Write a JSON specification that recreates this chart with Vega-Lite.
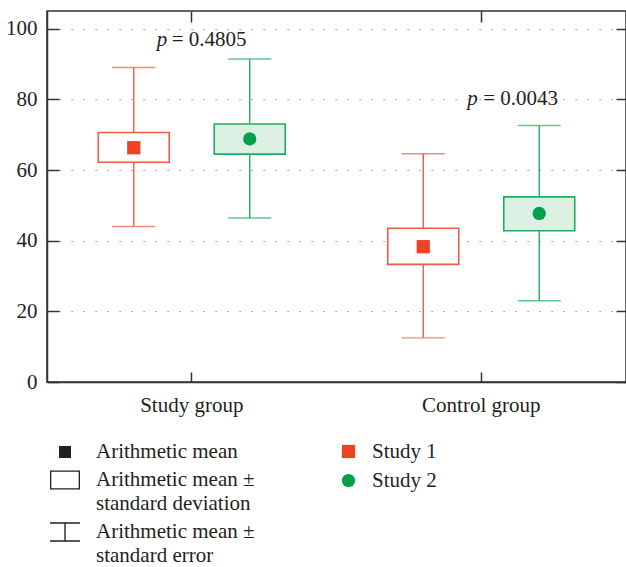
{
  "$schema": "https://vega.github.io/schema/vega-lite/v6.json",
  "width": 579,
  "height": 371,
  "autosize": "none",
  "padding": {"left": 47, "top": 11, "right": 0, "bottom": 185},
  "config": {
    "font": "Liberation Serif",
    "view": {"stroke": "#333333", "strokeWidth": 1.5},
    "axis": {"labelFont": "Liberation Serif", "labelFontSize": 21, "labelColor": "#231f20", "domainColor": "#333333", "domainWidth": 1.5, "tickColor": "#333333", "tickWidth": 1.5},
    "legend": {"labelFont": "Liberation Serif", "labelFontSize": 21, "labelColor": "#231f20", "padding": 0, "labelLimit": 400},
    "style": {"guide-label": {"lineHeight": 24}}
  },
  "datasets": {
    "stats": [
      {"group": "Study group", "series": "Study 1", "mean": 66.3, "sd_low": 62.2, "sd_high": 70.6, "se_low": 44.0, "se_high": 89.0},
      {"group": "Study group", "series": "Study 2", "mean": 68.8, "sd_low": 64.5, "sd_high": 73.0, "se_low": 46.4, "se_high": 91.4},
      {"group": "Control group", "series": "Study 1", "mean": 38.3, "sd_low": 33.3, "sd_high": 43.5, "se_low": 12.5, "se_high": 64.6},
      {"group": "Control group", "series": "Study 2", "mean": 47.7, "sd_low": 42.8, "sd_high": 52.4, "se_low": 23.0, "se_high": 72.6}
    ],
    "pvals": [
      {"group": "Study group", "y": 95.2, "label": "= 0.4805"},
      {"group": "Control group", "y": 78.4, "label": "= 0.0043"}
    ],
    "legenditems": [
      {"item": "Arithmetic mean"},
      {"item": "Arithmetic mean ±|standard deviation"},
      {"item": "Arithmetic mean ±|standard error"}
    ]
  },
  "layer": [
    {
      "data": {"name": "stats"},
      "mark": {"type": "rule", "strokeWidth": 1.4},
      "encoding": {
        "x": {"field": "group", "type": "nominal", "sort": ["Study group", "Control group"], "scale": {"type": "band", "paddingInner": 0, "paddingOuter": 0},
              "axis": {"orient": "bottom", "title": null, "labelAngle": 0, "tickSize": -10, "labelPadding": 22, "domain": true}},
        "xOffset": {"field": "series", "type": "nominal", "sort": ["Study 1", "Study 2"], "scale": {"paddingInner": 0.388, "paddingOuter": 0.442}},
        "y": {"field": "se_low", "type": "quantitative", "scale": {"domain": [0, 105], "nice": false, "zero": false},
              "axis": {"orient": "left", "title": null, "values": [0, 20, 40, 60, 80, 100], "tickSize": -12, "labelPadding": 22, "grid": true, "gridDash": [1.2, 10.8], "gridColor": "#808080", "gridWidth": 1.2}},
        "y2": {"field": "se_high"},
        "stroke": {"field": "series", "type": "nominal", "scale": {"domain": ["Study 1", "Study 2"], "range": ["#f05a46", "#1fae60"]}, "legend": null}
      }
    },
    {
      "data": {"name": "stats"},
      "mark": {"type": "tick", "size": 43, "thickness": 1.4, "orient": "horizontal"},
      "encoding": {
        "x": {"field": "group", "type": "nominal", "sort": ["Study group", "Control group"],
              "axis": {"orient": "top", "title": null, "labels": false, "tickSize": -11, "domain": false}},
        "xOffset": {"field": "series", "type": "nominal", "sort": ["Study 1", "Study 2"]},
        "y": {"field": "se_low", "type": "quantitative",
              "axis": {"orient": "right", "title": null, "labels": false, "values": [0, 20, 40, 60, 80, 100], "tickSize": -10, "domain": false, "grid": false}},
        "color": {"field": "series", "type": "nominal", "scale": {"domain": ["Study 1", "Study 2"], "range": ["#f05a46", "#1fae60"]}, "legend": null}
      }
    },
    {
      "data": {"name": "stats"},
      "mark": {"type": "tick", "size": 43, "thickness": 1.4, "orient": "horizontal"},
      "encoding": {
        "x": {"field": "group", "type": "nominal", "sort": ["Study group", "Control group"], "axis": null},
        "xOffset": {"field": "series", "type": "nominal", "sort": ["Study 1", "Study 2"]},
        "y": {"field": "se_high", "type": "quantitative", "axis": null},
        "color": {"field": "series", "type": "nominal", "scale": {"domain": ["Study 1", "Study 2"], "range": ["#f05a46", "#1fae60"]}, "legend": null}
      }
    },
    {
      "data": {"name": "stats"},
      "mark": {"type": "bar", "strokeWidth": 1.6},
      "encoding": {
        "x": {"field": "group", "type": "nominal", "sort": ["Study group", "Control group"], "axis": null},
        "xOffset": {"field": "series", "type": "nominal", "sort": ["Study 1", "Study 2"]},
        "y": {"field": "sd_low", "type": "quantitative", "axis": null},
        "y2": {"field": "sd_high"},
        "fill": {"field": "series", "type": "nominal", "scale": {"domain": ["Study 1", "Study 2"], "range": ["#ffffff", "#dcf0e4"]}, "legend": null},
        "stroke": {"field": "series", "type": "nominal", "scale": {"domain": ["Study 1", "Study 2"], "range": ["#f2705f", "#2fb36b"]}, "legend": null}
      }
    },
    {
      "data": {"name": "stats"},
      "mark": {"type": "point", "filled": true, "opacity": 1, "size": 175},
      "encoding": {
        "x": {"field": "group", "type": "nominal", "sort": ["Study group", "Control group"], "axis": null},
        "xOffset": {"field": "series", "type": "nominal", "sort": ["Study 1", "Study 2"]},
        "y": {"field": "mean", "type": "quantitative", "axis": null},
        "shape": {"field": "series", "type": "nominal", "scale": {"domain": ["Study 1", "Study 2"], "range": ["square", "circle"]},
                  "legend": {"title": null, "orient": "none", "legendX": 291, "legendY": 430, "symbolSize": 175, "labelOffset": 13, "rowPadding": 7, "symbolStrokeWidth": 0, "symbolOpacity": 1}},
        "color": {"field": "series", "type": "nominal", "scale": {"domain": ["Study 1", "Study 2"], "range": ["#ef4123", "#00a14b"]},
                  "legend": {"title": null, "orient": "none", "legendX": 291, "legendY": 430, "symbolSize": 175, "labelOffset": 13, "rowPadding": 7, "symbolStrokeWidth": 0, "symbolOpacity": 1}}
      }
    },
    {
      "data": {"name": "legenditems"},
      "mark": {"type": "point", "filled": true, "opacity": 0, "color": "#231f20"},
      "encoding": {
        "shape": {"field": "item", "type": "nominal",
                  "scale": {"domain": ["Arithmetic mean", "Arithmetic mean ±|standard deviation", "Arithmetic mean ±|standard error"],
                            "range": ["M-0.4,-0.4H0.4V0.4H-0.4Z", "M-1,-0.63H1V0.63H-1ZM-0.913,-0.543V0.543H0.913V-0.543Z", "M-1,-0.645H1V-0.555H-1ZM-1,0.555H1V0.645H-1ZM-0.045,-0.555H0.045V0.555H-0.045Z"]},
                  "legend": {"title": null, "orient": "none", "legendX": 3, "legendY": 426, "symbolSize": 900, "labelOffset": 16, "rowPadding": 3, "symbolStrokeWidth": 0, "symbolOpacity": 1, "symbolFillColor": "#231f20", "labelExpr": "split(datum.label, '|')"}}
      }
    },
    {
      "data": {"name": "pvals"},
      "transform": [{"filter": "datum.group == 'Study group'"}],
      "mark": {"type": "text", "text": "p", "fontStyle": "italic", "fontSize": 21, "align": "left", "baseline": "alphabetic", "dx": -35, "color": "#231f20"},
      "encoding": {
        "x": {"field": "group", "type": "nominal", "sort": ["Study group", "Control group"], "axis": null},
        "y": {"field": "y", "type": "quantitative", "axis": null}
      }
    },
    {
      "data": {"name": "pvals"},
      "transform": [{"filter": "datum.group == 'Study group'"}],
      "mark": {"type": "text", "fontSize": 21, "align": "left", "baseline": "alphabetic", "dx": -20, "color": "#231f20"},
      "encoding": {
        "x": {"field": "group", "type": "nominal", "sort": ["Study group", "Control group"], "axis": null},
        "y": {"field": "y", "type": "quantitative", "axis": null},
        "text": {"field": "label"}
      }
    },
    {
      "data": {"name": "pvals"},
      "transform": [{"filter": "datum.group == 'Control group'"}],
      "mark": {"type": "text", "text": "p", "fontStyle": "italic", "fontSize": 21, "align": "left", "baseline": "alphabetic", "dx": -14, "color": "#231f20"},
      "encoding": {
        "x": {"field": "group", "type": "nominal", "sort": ["Study group", "Control group"], "axis": null},
        "y": {"field": "y", "type": "quantitative", "axis": null}
      }
    },
    {
      "data": {"name": "pvals"},
      "transform": [{"filter": "datum.group == 'Control group'"}],
      "mark": {"type": "text", "fontSize": 21, "align": "left", "baseline": "alphabetic", "dx": 2, "color": "#231f20"},
      "encoding": {
        "x": {"field": "group", "type": "nominal", "sort": ["Study group", "Control group"], "axis": null},
        "y": {"field": "y", "type": "quantitative", "axis": null},
        "text": {"field": "label"}
      }
    }
  ],
  "resolve": {
    "scale": {"shape": "independent", "color": "independent"},
    "legend": {"shape": "independent", "color": "independent"},
    "axis": {"x": "independent", "y": "independent"}
  }
}
